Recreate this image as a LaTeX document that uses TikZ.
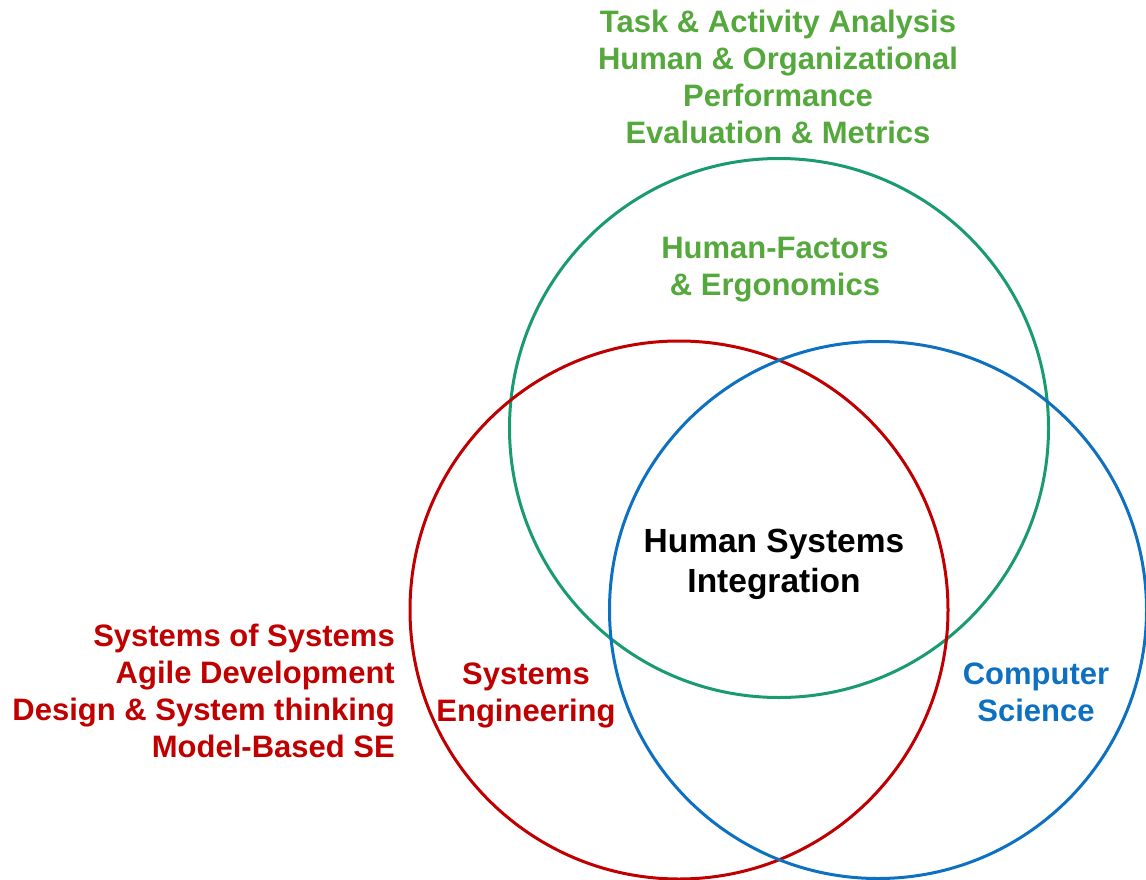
\documentclass[tikz,border=0pt]{standalone}
\usepackage{fontspec}
\setmainfont{Liberation Sans}
\definecolor{hfgreen}{HTML}{54A83C}
\definecolor{circgreen}{HTML}{1A9B6E}
\definecolor{seRed}{HTML}{C00000}
\definecolor{csBlue}{HTML}{0E70C0}
\tikzset{
  ring/.style={line width=3pt},
  lbl/.style={font=\bfseries\fontsize{31}{37}\selectfont, inner sep=0pt, align=center},
}
\begin{document}
\begin{tikzpicture}[x=1pt,y=-1pt]
\useasboundingbox (0,0) rectangle (1146,880);
% circles
\draw[ring, circgreen] (779,428) circle[radius=269.5];
\draw[ring, seRed] (679,610) circle[radius=269];
\draw[ring, csBlue] (878,610) circle[radius=268.5];
% labels
\node[lbl, text=hfgreen] (hftop) at (778,77) {Task \& Activity Analysis\\Human \& Organizational\\Performance\\Evaluation \& Metrics};
\node[lbl, text=hfgreen] (hfe) at (775,270) {Human-Factors\\ \& Ergonomics};
\node[lbl, text=black, font=\bfseries\fontsize{33.5}{40}\selectfont] (hsi) at (774,564) {Human Systems\\Integration};
\node[lbl, text=seRed] (se) at (526,695) {Systems\\Engineering};
\node[lbl, text=csBlue] (cs) at (1036,692) {Computer\\Science};
\node[lbl, text=seRed, align=right, anchor=east] (seleft) at (395,691) {Systems of Systems\\Agile Development\\Design \& System thinking\\Model-Based SE};
\end{tikzpicture}
\end{document}
